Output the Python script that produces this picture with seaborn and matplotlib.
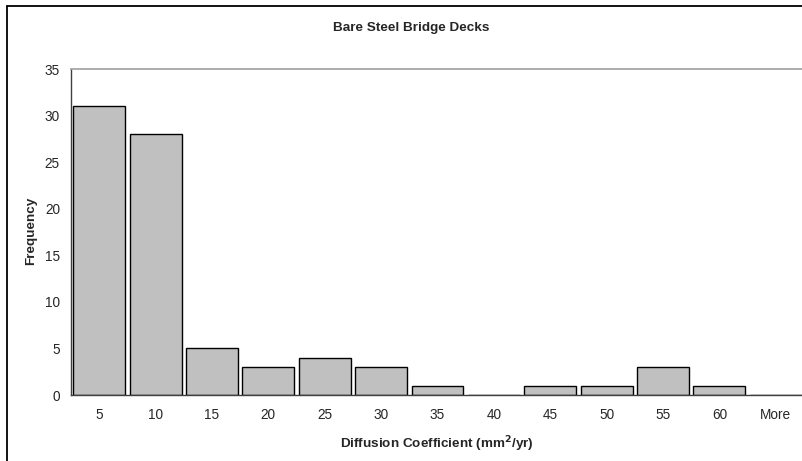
import matplotlib
matplotlib.use("Agg")
import matplotlib.pyplot as plt
from matplotlib.lines import Line2D
import seaborn as sns
import numpy as np

bins = ["5", "10", "15", "20", "25", "30", "35", "40", "45", "50", "55", "60", "More"]
frequency = [31, 28, 5, 3, 4, 3, 1, 0, 1, 1, 3, 1, 0]
y_ticks = [0, 5, 10, 15, 20, 25, 30, 35]

sns.set_style("white")
plt.rcParams["font.family"] = ["Liberation Sans", "DejaVu Sans"]

W, H = 802, 461
fig = plt.figure(figsize=(W / 100, H / 100), dpi=100)
ax = fig.add_axes([71 / W, 1 - 395 / H, (804 - 71) / W, (395 - 69) / H])

sns.barplot(x=bins, y=frequency, color="#C0C0C0", edgecolor="black",
            linewidth=1.0, width=0.92, saturation=1, ax=ax)

ax.set_xlim(-0.5, len(bins) - 0.5)
ax.set_ylim(0, 35)
ax.set_yticks(y_ticks)
ax.set_yticklabels([str(v) for v in y_ticks], fontsize=9.8)

# category labels centred, tick marks on the bin boundaries
ax.set_xticks(range(len(bins)))
ax.set_xticklabels(bins, fontsize=9.8)
ax.set_xticks(np.arange(-0.5, len(bins), 1.0), minor=True)
ax.tick_params(axis="x", which="major", length=0, pad=9.5)
ax.tick_params(axis="x", which="minor", length=4, width=1, color="#404040", direction="out")
ax.tick_params(axis="y", length=4, width=1, color="#404040", direction="out", pad=4)

for s in ["left", "bottom"]:
    ax.spines[s].set_color("#404040")
    ax.spines[s].set_linewidth(1.0)
ax.spines["top"].set_color("#A0A0A0")
ax.spines["top"].set_linewidth(1.2)
ax.spines["right"].set_visible(False)

ax.set_xlabel("")
ax.set_ylabel("")
fig.text(437 / W, 1 - 444 / H, "Diffusion Coefficient (mm$^\\mathbf{2}$/yr)",
         ha="center", va="center", fontsize=9.7, fontweight="bold")
fig.text(31 / W, 1 - 231 / H, "Frequency", ha="center", va="center",
         rotation=90, fontsize=9.7, fontweight="bold")
fig.text(411 / W, 1 - 28 / H, "Bare Steel Bridge Decks", ha="center", va="center",
         fontsize=9.7, fontweight="bold")

# chart-area frame
fig.add_artist(Line2D([7 / W, 7 / W], [0, 1 - 6 / H], color="black", lw=1.3,
                      transform=fig.transFigure))
fig.add_artist(Line2D([7 / W, 1], [1 - 6 / H, 1 - 6 / H], color="black", lw=1.3,
                      transform=fig.transFigure))

fig.savefig("out.png", dpi=100)
